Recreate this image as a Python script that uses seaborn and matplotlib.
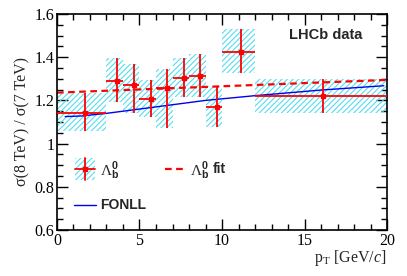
import numpy as np
import pandas as pd
import matplotlib
matplotlib.use("Agg")
import matplotlib.pyplot as plt
import seaborn as sns
from matplotlib.patches import Rectangle
from matplotlib.lines import Line2D
from matplotlib.ticker import MultipleLocator

# ---- data ----
pt_center = [1.7, 3.66, 4.69, 5.70, 6.69, 7.70, 8.67, 9.70, 11.15, 16.14]
bin_lo    = [0.0, 3.0, 4.0, 5.0, 6.0, 7.0, 8.0, 9.0, 10.0, 12.0]
bin_hi    = [3.0, 4.0, 5.0, 6.0, 7.0, 8.0, 9.0, 10.0, 12.0, 20.0]
ratio     = [1.143, 1.291, 1.271, 1.206, 1.256, 1.302, 1.313, 1.171, 1.423, 1.220]
err_up    = [1.236, 1.398, 1.367, 1.294, 1.344, 1.395, 1.415, 1.267, 1.529, 1.298]
err_dn    = [1.058, 1.191, 1.140, 1.122, 1.071, 1.214, 1.214, 1.078, 1.325, 1.143]

fonll_pt  = [0.5, 1.5, 3.0, 6.0, 9.0, 12.0, 16.0, 19.8]
fonll_val = [1.125, 1.128, 1.140, 1.170, 1.200, 1.222, 1.248, 1.268]

fit_pt  = [0.0, 20.0]
fit_val = [1.236, 1.295]

RED = "#ff0000"
BLUE = "#0000ee"
CYAN = "#55ddee"

sns.set_style("ticks")
plt.rcParams["font.family"] = ["Liberation Serif", "DejaVu Serif"]
plt.rcParams["mathtext.fontset"] = "custom"
plt.rcParams["mathtext.rm"] = "Liberation Serif"
plt.rcParams["mathtext.it"] = "Liberation Serif:italic"
plt.rcParams["mathtext.bf"] = "Liberation Sans:bold"
plt.rcParams["hatch.linewidth"] = 0.8
plt.rcParams["hatch.color"] = CYAN

fig = plt.figure(figsize=(4.07, 2.76), dpi=100)
ax = fig.add_axes([0.140, 0.167, 0.811, 0.782])

df = pd.DataFrame({"pt": pt_center, "lo": bin_lo, "hi": bin_hi, "r": ratio,
                   "up": err_up, "dn": err_dn})

# hatched boxes
for _, row in df.iterrows():
    ax.bar(row["lo"], row["up"] - row["dn"], width=row["hi"] - row["lo"],
           bottom=row["dn"], align="edge", fill=False, hatch="//////",
           edgecolor=CYAN, linewidth=0, zorder=1)

# fit (dashed) and FONLL
sns.lineplot(x=fit_pt, y=fit_val, ax=ax, color=RED, linestyle=(0, (3, 2)),
             linewidth=1.6, zorder=2)
sns.lineplot(x=fonll_pt, y=fonll_val, ax=ax, color=BLUE, linewidth=1.0, zorder=3)

# data points
xerr = [df["pt"] - df["lo"], df["hi"] - df["pt"]]
yerr = [df["r"] - df["dn"], df["up"] - df["r"]]
ax.errorbar(df["pt"], df["r"], xerr=xerr, yerr=yerr, fmt="s", color=RED,
            markersize=3, elinewidth=1.3, capsize=0, zorder=4)

ax.set_xlim(0, 20)
ax.set_ylim(0.6, 1.6)
ax.xaxis.set_major_locator(MultipleLocator(5))
ax.xaxis.set_minor_locator(MultipleLocator(1))
ax.yaxis.set_minor_locator(MultipleLocator(0.05))
ax.set_yticks([0.6, 0.8, 1.0, 1.2, 1.4, 1.6])
ax.set_yticklabels(["0.6", "0.8", "1", "1.2", "1.4", "1.6"])
ax.tick_params(which="both", direction="in", top=True, right=True, labelsize=11.5,
               width=1.0, colors="black", pad=2)
ax.tick_params(which="major", length=8)
ax.tick_params(which="minor", length=4)
for s in ax.spines.values():
    s.set_linewidth(1.2)
    s.set_color("black")

ax.set_ylabel("σ(8 TeV) / σ(7 TeV)", fontsize=11.5, labelpad=3)
ax.set_xlabel(r"p$_{\rm T}$ [GeV/$\it{c}$]", fontsize=11.5, labelpad=0)
ax.xaxis.set_label_coords(1.0, -0.085)
ax.xaxis.label.set_horizontalalignment("right")

ax.text(0.925, 0.903, "LHCb data", transform=ax.transAxes, ha="right", va="center",
        fontsize=10.5, fontweight="bold", family="Liberation Sans")

# legend (manual, in axes coordinates)
T = ax.transAxes
ax.add_patch(Rectangle((0.055, 0.231), 0.06, 0.102, transform=T, fill=False,
                       hatch="//////", edgecolor=CYAN, linewidth=0, zorder=5))
ax.add_line(Line2D([0.055, 0.115], [0.282, 0.282], transform=T, color=RED, lw=1.3, zorder=6))
ax.add_line(Line2D([0.085, 0.085], [0.231, 0.333], transform=T, color=RED, lw=1.3, zorder=6))
ax.add_line(Line2D([0.085], [0.282], transform=T, color=RED, marker="s", markersize=3, zorder=6))
ax.text(0.13, 0.275, r"$\Lambda_{\mathbf{b}}^{\mathbf{0}}$", transform=T, ha="left", va="center",
        fontsize=11)
ax.add_line(Line2D([0.327, 0.388], [0.282, 0.282], transform=T, color=RED,
                   linestyle=(0, (3, 2)), lw=1.6, zorder=6))
ax.text(0.403, 0.275, r"$\Lambda_{\mathbf{b}}^{\mathbf{0}}$", transform=T, ha="left", va="center",
        fontsize=11)
ax.text(0.473, 0.282, "fit", transform=T, ha="left", va="center",
        fontsize=10, fontweight="bold", family="Liberation Sans")
ax.add_line(Line2D([0.052, 0.118], [0.116, 0.116], transform=T, color=BLUE, lw=1.0, zorder=6))
ax.text(0.13, 0.116, "FONLL", transform=T, ha="left", va="center",
        fontsize=10, fontweight="bold", family="Liberation Sans")

fig.savefig("out.png", dpi=100)
